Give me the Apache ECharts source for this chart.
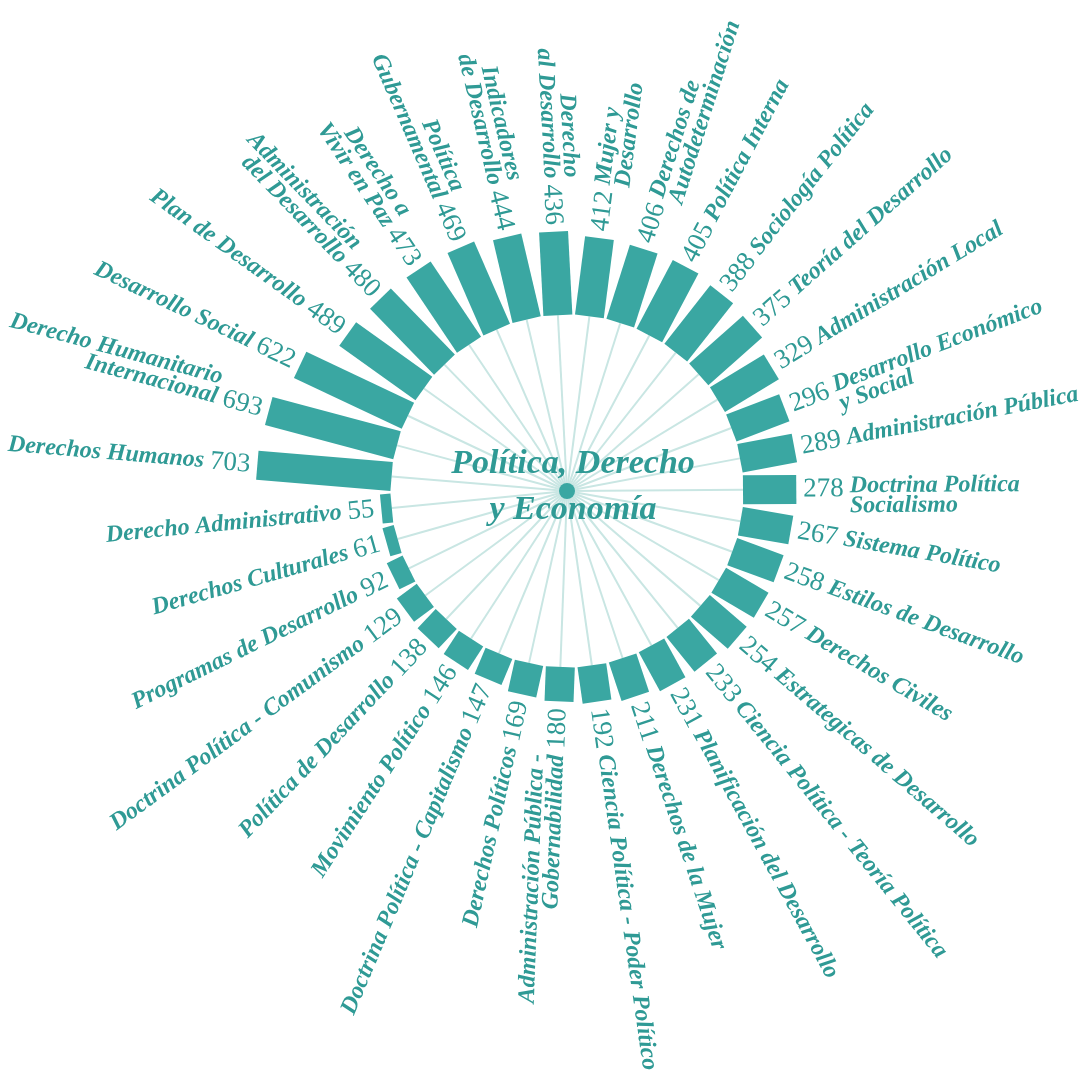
<!DOCTYPE html>
<html>
<head>
<meta charset="utf-8">
<title>Política, Derecho y Economía</title>
<script src="https://cdn.jsdelivr.net/npm/echarts@6/dist/echarts.min.js"></script>
<style>
  html, body { margin: 0; padding: 0; background: #fff; }
  #chart { width: 1082px; height: 1077px; }
</style>
</head>
<body>
<div id="chart"></div>
<script>
// categories clockwise, starting just above 9 o'clock
const categories = [
  'Derechos Humanos',
  'Derecho Humanitario\nInternacional',
  'Desarrollo Social',
  'Plan de Desarrollo',
  'Administración\ndel Desarrollo',
  'Derecho a\nVivir en Paz',
  'Política\nGubernamental',
  'Indicadores\nde Desarrollo',
  'Derecho\nal Desarrollo',
  'Mujer y\nDesarrollo',
  'Derechos de\nAutodeterminación',
  'Política Interna',
  'Sociología Política',
  'Teoría del Desarrollo',
  'Administración Local',
  'Desarrollo Económico\ny Social',
  'Administración Pública',
  'Doctrina Política\nSocialismo',
  'Sistema Político',
  'Estilos de Desarrollo',
  'Derechos Civiles',
  'Estrategicas de Desarrollo',
  'Ciencia Política - Teoría Política',
  'Planificación del Desarrollo',
  'Derechos de la Mujer',
  'Ciencia Política - Poder Político',
  'Administración Pública -\nGobernabilidad',
  'Derechos Políticos',
  'Doctrina Política - Capitalismo',
  'Movimiento Político',
  'Política de Desarrollo',
  'Doctrina Política - Comunismo',
  'Programas de Desarrollo',
  'Derechos Culturales',
  'Derecho Administrativo'
];
const values = [
  703, 693, 622, 489, 480, 473, 469, 444, 436, 412, 406, 405,
  388, 375, 329, 296, 289, 278, 267, 258, 257, 254, 233, 231,
  211, 192, 180, 169, 147, 146, 138, 129, 92, 61, 55
];
const title = 'Política, Derecho\ny Economía';

const barColor = '#3aa7a2';
const textColor = '#2f9a95';
const spokeColor = '#c9e6e3';
const serif = '"Liberation Serif", "Times New Roman", serif';

const BAR_W = 29;
const NUM_SIZE = 27;
const NAME_SIZE = 24;
const LINE_H = 20;
const NUM_GAP = 7;
const NAME_GAP = 6;

const ctx = document.createElement('canvas').getContext('2d');
function numWidth(v) {
  ctx.font = NUM_SIZE + 'px ' + serif;
  return ctx.measureText(String(v)).width;
}

function renderItem(params, api) {
  const i = params.dataIndex;
  const cs = params.coordSys;
  const v = api.value(0);
  const base = api.coord([0, i]);
  const tip = api.coord([v, i]);
  const a = Math.atan2(base[1] - cs.cy, base[0] - cs.cx);
  const ux = Math.cos(a), uy = Math.sin(a);
  const nx = -uy * BAR_W / 2, ny = ux * BAR_W / 2;
  const right = ux >= 0;
  let rot = right ? -a : -(a + Math.PI);
  while (rot > Math.PI) rot -= 2 * Math.PI;
  while (rot < -Math.PI) rot += 2 * Math.PI;
  const downX = Math.sin(rot), downY = Math.cos(rot);
  const align = right ? 'left' : 'right';
  const name = categories[i];
  const lines = name.split('\n').length;
  const shift = lines > 1 ? (right ? LINE_H / 2 - 3 : -LINE_H / 2) : 0;
  const d1 = NUM_GAP;
  const d2 = NUM_GAP + numWidth(v) + NAME_GAP;

  const children = [
    {
      type: 'line',
      shape: { x1: cs.cx, y1: cs.cy, x2: base[0], y2: base[1] },
      style: { stroke: spokeColor, lineWidth: 2 }
    },
    {
      type: 'polygon',
      shape: {
        points: [
          [base[0] + nx, base[1] + ny],
          [tip[0] + nx, tip[1] + ny],
          [tip[0] - nx, tip[1] - ny],
          [base[0] - nx, base[1] - ny]
        ]
      },
      style: { fill: barColor }
    },
    {
      type: 'text',
      x: tip[0] + ux * d1,
      y: tip[1] + uy * d1,
      rotation: rot,
      style: {
        text: String(v), fill: textColor, fontFamily: serif,
        fontSize: NUM_SIZE, align: align, verticalAlign: 'middle'
      }
    },
    {
      type: 'text',
      x: tip[0] + ux * d2 + downX * shift,
      y: tip[1] + uy * d2 + downY * shift,
      rotation: rot,
      style: {
        text: name, fill: textColor, fontFamily: serif,
        fontSize: NAME_SIZE, fontStyle: 'italic', fontWeight: 'bold',
        lineHeight: LINE_H, align: align, verticalAlign: 'middle'
      }
    }
  ];
  if (i === 0) {
    children.push({
      type: 'circle', z2: 10,
      shape: { cx: cs.cx, cy: cs.cy, r: 8 },
      style: { fill: barColor }
    });
  }
  return { type: 'group', children: children };
}

const chart = echarts.init(document.getElementById('chart'));
chart.setOption({
  animation: false,
  polar: { center: [567, 491], radius: [176, 314] },
  angleAxis: { type: 'category', data: categories, startAngle: 180.4, show: false },
  radiusAxis: { type: 'value', min: 0, max: 720, show: false },
  graphic: [{
    type: 'text', z: 100, x: 573, y: 487,
    style: {
      text: title, fill: textColor, fontFamily: serif,
      fontSize: 34, fontStyle: 'italic', fontWeight: 'bold',
      lineHeight: 46, align: 'center', verticalAlign: 'middle'
    }
  }],
  series: [{
    type: 'custom',
    coordinateSystem: 'polar',
    data: values.map((v, i) => [v, i]),
    encode: { radius: 0, angle: 1 },
    renderItem: renderItem
  }]
});
</script>
</body>
</html>
